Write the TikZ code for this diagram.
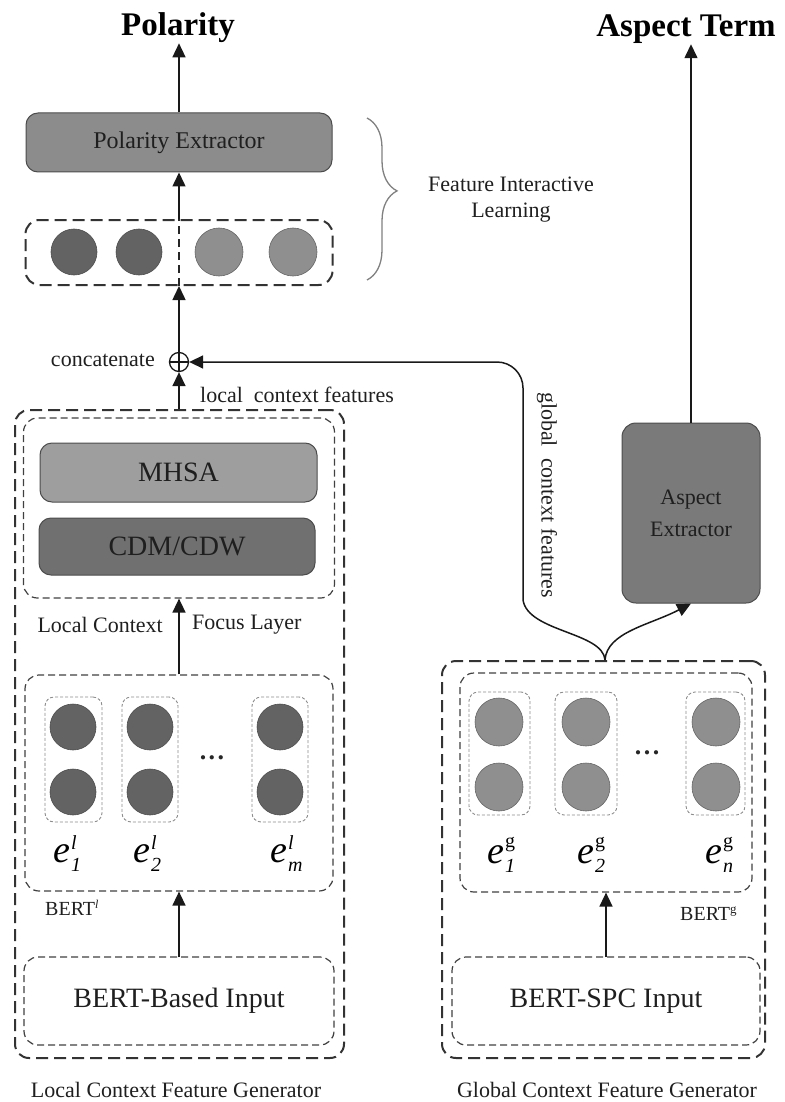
\documentclass[tikz,border=0pt]{standalone}
\usepackage{fontspec}
\setmainfont{Liberation Serif}
\usetikzlibrary{arrows.meta,decorations.pathreplacing,calc}

% font size helper: \fs{size}{baselineskip}
\newcommand{\fs}[2]{\fontsize{#1}{#2}\selectfont}
% embedding label e^{sup}_{sub}; #3 raises the superscript
\newcommand{\emblab}[3]{{\fs{38}{38}\itshape e}\kern1pt\rlap{\raisebox{#3}{\fs{20}{20}#1}}\raisebox{-9pt}{\fs{20}{20}\itshape #2}}
% ellipsis between the embedding columns
\newcommand{\coldots}{\textbf{.\kern2.5pt.\kern2.5pt.}}

\tikzset{
  arr/.style={-{Triangle[length=14pt,width=13pt]}, line width=1.5pt, draw=black!90},
  solidbox/.style={draw=black!70, line width=1pt, rounded corners=12pt, text=black!88, inner sep=0pt},
  outerbox/.style={draw=black!80, line width=2pt, dash pattern=on 12pt off 6pt, rounded corners=14pt, inner sep=0pt},
  innerbox/.style={draw=black!75, line width=1.2pt, dash pattern=on 7pt off 4pt, rounded corners=14pt, inner sep=0pt},
  colbox/.style={draw=black!45, line width=0.9pt, dash pattern=on 3pt off 2pt, rounded corners=9pt, inner sep=0pt},
  darkdot/.style={circle, fill=black!61, draw=black!70, line width=0.6pt, minimum size=46pt, inner sep=0pt},
  lightdot/.style={circle, fill=black!44, draw=black!60, line width=0.6pt, minimum size=48pt, inner sep=0pt},
  lbl/.style={font=\fs{22}{26}, text=black!88, inner sep=0pt},
  title/.style={font=\fs{33}{36}\bfseries, inner sep=0pt},
}

\begin{document}
\begin{tikzpicture}[x=1pt, y=-1pt]
\useasboundingbox (0,0) rectangle (784,1102);

% ---------- outputs ----------
\node[title, anchor=base] (pol) at (178,36) {Polarity};
\node[title, anchor=base] (aterm) at (686,37) {Aspect Term};

% ---------- feature interactive learning ----------
\node[solidbox, fill=black!45, minimum width=306pt, minimum height=59pt, font=\fs{24}{28}] (pe) at (179,142.5) {Polarity Extractor};
\node[outerbox, minimum width=307pt, minimum height=65pt] (fbox) at (179,252.5) {};
\node[darkdot] (f1) at (74,252) {};
\node[darkdot] (f2) at (139,252) {};
\node[lightdot] (f3) at (219,252) {};
\node[lightdot] (f4) at (293,252) {};
\draw[black!85, line width=1.3pt, dash pattern=on 8pt off 5pt] (fbox.south) -- (fbox.north);

\draw[arr] (pe.north) -- (pe.north |- pol.south);
\draw[arr] (fbox.north) -- (pe.south);

\draw[black!50, line width=1.3pt, decorate, decoration={brace, amplitude=30pt, aspect=0.45}]
  (367,118) -- (367,280);
\node[lbl, align=center] (fil) at (511,200) {Feature Interactive\\Learning};

% ---------- concatenation ----------
\node[circle, draw=black!90, line width=1.3pt, minimum size=19pt, inner sep=0pt] (cat) at (179,362) {};
\draw[black!90, line width=1.3pt] (cat.north) -- (cat.south) (cat.west) -- (cat.east);
\node[lbl, anchor=east] (catlbl) at (155,360) {concatenate};
\draw[arr] (cat.north) -- (fbox.south);

% ---------- local context feature generator ----------
\node[outerbox, minimum width=329pt, minimum height=648pt] (lgen) at (179.5,734) {};
\draw[arr] (cat.south |- lgen.north) -- (cat.south);
\node[lbl, anchor=west] (loclbl) at (200,395) {local~ context features};

\node[innerbox, minimum width=311pt, minimum height=180pt] (flb) at (179,508) {};
\node[solidbox, fill=black!38, minimum width=277pt, minimum height=59pt, font=\fs{28}{30}] (mhsa) at (178.5,472.5) {MHSA};
\node[solidbox, fill=black!56, minimum width=276pt, minimum height=57pt, font=\fs{28}{30}] (cdm) at (177,546.5) {CDM/CDW};
\node[lbl, anchor=east] (lcf1) at (163,625) {Local Context};
\node[lbl, anchor=west] (lcf2) at (192,625) {Focus Layer};

\node[innerbox, minimum width=308pt, minimum height=216pt] (bl) at (179,783) {};
\draw[arr] (flb.south |- bl.north) -- (flb.south);
\node[colbox, minimum width=57pt, minimum height=125pt] (lc1) at (73.5,759.5) {};
\node[colbox, minimum width=56pt, minimum height=125pt] (lc2) at (150,759.5) {};
\node[colbox, minimum width=56pt, minimum height=125pt] (lc3) at (280,759.5) {};
\node[darkdot] (l11) at (73,727) {};
\node[darkdot] (l12) at (73,792) {};
\node[darkdot] (l21) at (150,727) {};
\node[darkdot] (l22) at (150,792) {};
\node[darkdot] (l31) at (280,727) {};
\node[darkdot] (l32) at (280,792) {};
\node[inner sep=0pt, font=\fs{26}{26}, text=black!85] (ldots) at (212,758) {\coldots};
\node[anchor=base west, inner sep=0pt] (el1) at (53,862) {\emblab{\itshape l}{1}{13pt}};
\node[anchor=base west, inner sep=0pt] (el2) at (133,862) {\emblab{\itshape l}{2}{13pt}};
\node[anchor=base west, inner sep=0pt] (elm) at (270,862) {\emblab{\itshape l}{m}{13pt}};
\node[anchor=base west, inner sep=0pt, font=\fs{20}{22}, text=black!88] (bertl) at (45,915) {BERT\raisebox{7pt}{\fs{12}{12}\itshape l}};

\draw[arr] (179,957) -- (bl.south);
\node[innerbox, minimum width=310pt, minimum height=88pt, font=\fs{28}{30}, text=black!88] (bin) at (179,1001) {BERT-Based Input};
\node[lbl] (lcap) at (176,1090) {Local Context Feature Generator};

% ---------- global context feature generator ----------
\node[outerbox, minimum width=323pt, minimum height=397pt] (ggen) at (603.5,859.5) {};
\node[innerbox, minimum width=292pt, minimum height=219pt] (bg) at (606,782.5) {};
\node[colbox, minimum width=61pt, minimum height=123pt] (gc1) at (499.5,753.5) {};
\node[colbox, minimum width=62pt, minimum height=123pt] (gc2) at (586,753.5) {};
\node[colbox, minimum width=59pt, minimum height=123pt] (gc3) at (715.5,753.5) {};
\node[lightdot] (g11) at (499,722) {};
\node[lightdot] (g12) at (499,787) {};
\node[lightdot] (g21) at (586,722) {};
\node[lightdot] (g22) at (586,787) {};
\node[lightdot] (g31) at (716,722) {};
\node[lightdot] (g32) at (716,787) {};
\node[inner sep=0pt, font=\fs{26}{26}, text=black!85] (gdots) at (647,753) {\coldots};
\node[anchor=base west, inner sep=0pt] (eg1) at (487,863) {\emblab{g}{1}{16pt}};
\node[anchor=base west, inner sep=0pt] (eg2) at (577,863) {\emblab{g}{2}{16pt}};
\node[anchor=base west, inner sep=0pt] (egn) at (705,863) {\emblab{g}{n}{16pt}};
\node[anchor=base west, inner sep=0pt, font=\fs{20}{22}, text=black!88] (bertg) at (680,920) {BERT\raisebox{7pt}{\fs{13}{13}g}};

\draw[arr] (606,957) -- (bg.south);
\node[innerbox, minimum width=308pt, minimum height=88pt, font=\fs{28}{30}, text=black!88] (bsp) at (606,1001) {BERT-SPC Input};
\node[lbl] (gcap) at (607,1090) {Global Context Feature Generator};

% ---------- aspect extraction and global features ----------
\node[solidbox, fill=black!52, minimum width=138pt, minimum height=180pt, rounded corners=14pt, align=center, font=\fs{22}{32}] (ae) at (691,513) {Aspect\\Extractor};
\draw[arr] (ae.north) -- (ae.north |- aterm.south);

\coordinate (gsplit) at (605,660);
\coordinate (gturn) at (523,362);
\draw[arr] (gsplit) .. controls (603,632) and (528,632) .. (523,600)
  [rounded corners=26pt] -- (gturn) -- (cat.east);
\draw[arr] (gsplit) .. controls (607,632) and (650,625) .. (ae.south);
\node[lbl, rotate=-90] (glolbl) at (547,495) {global~ context features};

\end{tikzpicture}
\end{document}
